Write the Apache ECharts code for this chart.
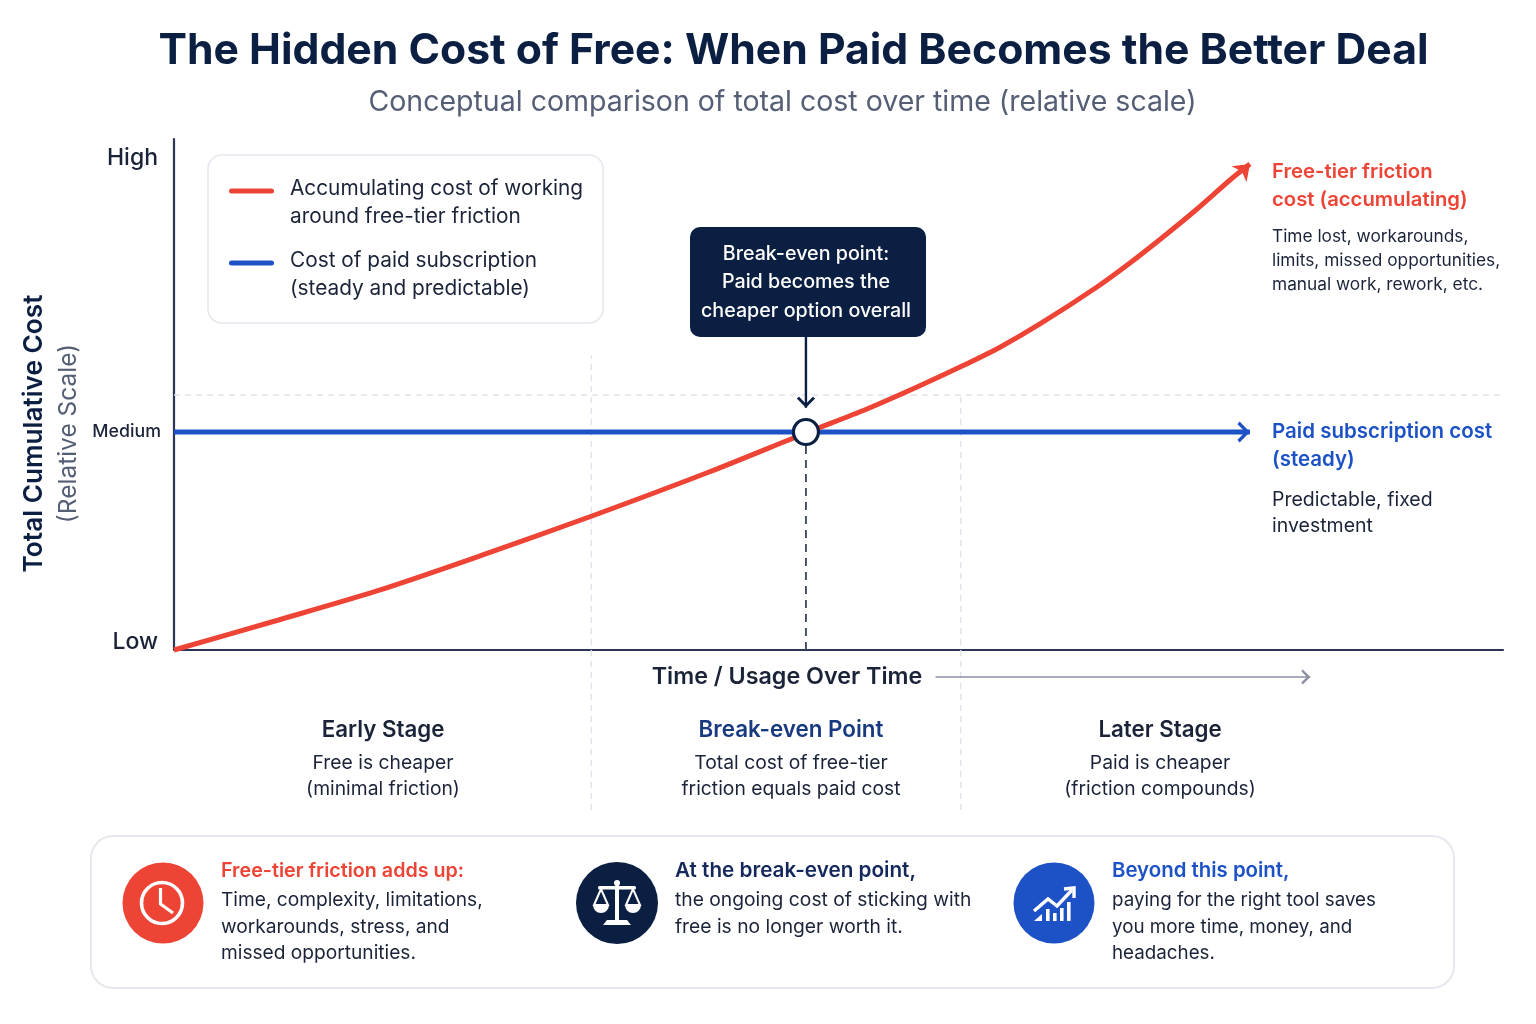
<!DOCTYPE html>
<html>
<head>
<meta charset="utf-8">
<style>html,body{margin:0;padding:0;background:#fff}#c{width:1536px;height:1024px}</style>
<script src="https://cdn.jsdelivr.net/npm/echarts@6/dist/echarts.min.js"></script>
</head>
<body>
<div id="c"></div>
<script>
const titleText = 'The Hidden Cost of Free: When Paid Becomes the Better Deal';
const subtitleText = 'Conceptual comparison of total cost over time (relative scale)';
const yTickValues = [1.6, 42.66, 96.3];
const yTickLabels = ['Low', 'Medium', 'High'];
const freeName = 'Accumulating cost of working\naround free-tier friction';
const paidName = 'Cost of paid subscription\n(steady and predictable)';
const freeX = [0, 7.6, 15.27, 23.02, 31.45, 40.26, 47.55, 52.14, 55.91, 59.14, 62.15, 65.16, 69.45, 71.93, 74.42, 76.98, 79.46, 80.96];
const freeY = [0, 5.68, 11.55, 18.4, 26.22, 34.83, 42.47, 47.16, 51.46, 55.36, 59.26, 63.8, 71.04, 75.73, 80.82, 86.3, 91.98, 95.1];
const paidX = [0, 80.96];
const paidY = [42.66, 42.66];
const breakEven = [47.55, 42.66];
const stageDividers = [[31.4, 57.7], [59.2, 49.9]];
const dividerBottom = -31.3;
const guideLevel = 49.9;
const timeArrowX = [57.3, 85.5];
const timeArrowY = -5.28;
const calloutArrowY = [61.25, 47.4];
const calloutLines = ['Break-even point:', 'Paid becomes the', 'cheaper option overall'];
const freeNote = ['Free-tier friction', 'cost (accumulating)'];
const freeBody = ['Time lost, workarounds,', 'limits, missed opportunities,', 'manual work, rework, etc.'];
const paidNote = ['Paid subscription cost', '(steady)'];
const paidBody = ['Predictable, fixed', 'investment'];
const stageTitles = ['Early Stage', 'Break-even Point', 'Later Stage'];
const stageBodies = [['Free is cheaper', '(minimal friction)'], ['Total cost of free-tier', 'friction equals paid cost'], ['Paid is cheaper', '(friction compounds)']];
const cardTitles = ['Free-tier friction adds up:', 'At the break-even point,', 'Beyond this point,'];
const cardBodies = [
  ['Time, complexity, limitations,', 'workarounds, stress, and', 'missed opportunities.'],
  ['the ongoing cost of sticking with', 'free is no longer worth it.'],
  ['paying for the right tool saves', 'you more time, money, and', 'headaches.']
];

const RED = '#ee4435', BLUE = '#1d52c7', NAVY = '#0b1f42', INK = '#1a2338', FONT = 'Inter';
const CHEVRON = 'path://M0 0L0 0Z M24 24L24 24Z M12 12L22 22L19.5 24L12 16.5L4.5 24L2 22Z';
const SOLID_HEAD = 'path://M12 -3L12 -3Z M12 12L23 27L12 23L1 27Z';
const zip = (xs, ys) => xs.map((x, i) => [x, ys[i]]);
const withArrow = (pts, symbol, size, rot, color) => pts.map((p, i) => i === pts.length - 1
  ? {value: p, symbol, symbolSize: size, symbolRotate: rot, itemStyle: {color}}
  : {value: p, symbol: 'none'});
const guide = (data, color, width, dash, extra) => Object.assign({
  type: 'line', data, clip: false, silent: true, symbol: 'none', showSymbol: false,
  lineStyle: {color, width, type: dash ? dash : 'solid'}, z: 1
}, extra || {});

const txt = (text, x, y, size, weight, color, align) => ({
  type: 'text', x, y: y + 1, silent: true,
  style: {text, fontFamily: FONT, fontSize: size, fontWeight: weight, fill: color, align: align || 'left', verticalAlign: 'middle'}
});
const lines = (arr, x, ys, size, weight, color, align) => arr.map((t, i) => txt(t, x, ys[i], size, weight, color, align));

const W = {stroke: '#fff', fill: 'none'};
const clockIcon = [
  {type: 'circle', shape: {cx: 163, cy: 903, r: 40.5}, style: {fill: RED}},
  {type: 'circle', shape: {cx: 162, cy: 903, r: 20.5}, style: Object.assign({lineWidth: 3.6}, W)},
  {type: 'polyline', shape: {points: [[160.5, 888], [160.5, 904], [173, 913]]}, style: Object.assign({lineWidth: 3.2}, W)}
];
const scaleIcon = [
  {type: 'circle', shape: {cx: 617, cy: 903, r: 41}, style: {fill: NAVY}},
  {type: 'rect', shape: {x: 615, y: 884, width: 4, height: 37}, style: {fill: '#fff'}},
  {type: 'circle', shape: {cx: 617, cy: 883, r: 3}, style: {fill: '#fff'}},
  {type: 'rect', shape: {x: 598, y: 886, width: 38, height: 3.5, r: 1.5}, style: {fill: '#fff'}},
  {type: 'polygon', shape: {points: [[607, 920], [627, 920], [631, 925], [607, 925], [603, 925]]}, style: {fill: '#fff'}},
  {type: 'polyline', shape: {points: [[601, 889], [594, 905], [608, 905], [601, 889]]}, style: {fill: 'none', stroke: '#fff', lineWidth: 2}},
  {type: 'polyline', shape: {points: [[633, 889], [626, 905], [640, 905], [633, 889]]}, style: {fill: 'none', stroke: '#fff', lineWidth: 2}},
  {type: 'sector', shape: {cx: 601, cy: 905, r0: 0, r: 8, startAngle: 0, endAngle: Math.PI, clockwise: true}, style: {fill: '#fff'}},
  {type: 'sector', shape: {cx: 633, cy: 905, r0: 0, r: 8, startAngle: 0, endAngle: Math.PI, clockwise: true}, style: {fill: '#fff'}}
];
const growthIcon = [
  {type: 'circle', shape: {cx: 1054, cy: 903, r: 40.5}, style: {fill: BLUE}},
  {type: 'polygon', shape: {points: [[1034, 921], [1042, 914], [1042, 921]]}, style: {fill: '#fff'}},
  {type: 'rect', shape: {x: 1046, y: 909, width: 3.6, height: 12}, style: {fill: '#fff'}},
  {type: 'rect', shape: {x: 1053, y: 913, width: 3.6, height: 8}, style: {fill: '#fff'}},
  {type: 'rect', shape: {x: 1060, y: 908, width: 3.6, height: 13}, style: {fill: '#fff'}},
  {type: 'rect', shape: {x: 1067, y: 902, width: 3.6, height: 19}, style: {fill: '#fff'}},
  {type: 'polyline', shape: {points: [[1034, 911], [1048, 899], [1057, 906], [1072, 890]]}, style: Object.assign({lineWidth: 3.4}, W)},
  {type: 'polyline', shape: {points: [[1064, 889], [1074, 888], [1074, 898]]}, style: Object.assign({lineWidth: 3.4}, W)}
];

const graphics = [].concat(
  [{type: 'rect', shape: {x: 690, y: 227, width: 236, height: 110, r: 10}, style: {fill: NAVY}, z: 3}],
  lines(calloutLines, 806, [253, 281, 310], 19.7, 500, '#fff', 'center').map(e => Object.assign(e, {z: 4})),
  lines(freeNote, 1272, [171, 199], 20.3, 600, RED),
  lines(freeBody, 1272, [236, 260, 284], 17.3, 400, INK),
  lines(paidNote, 1272, [431, 459], 20.5, 600, BLUE),
  lines(paidBody, 1272, [499, 525], 19.5, 400, INK),
  [txt(stageTitles[0], 383, 729, 22.3, 600, INK, 'center'),
   txt(stageTitles[1], 791, 729, 22.4, 600, '#183a80', 'center'),
   txt(stageTitles[2], 1160, 729, 22.3, 600, INK, 'center')],
  lines(stageBodies[0], 383, [762, 788], 19.3, 400, INK, 'center'),
  lines(stageBodies[1], 791, [762, 788], 19.3, 400, INK, 'center'),
  lines(stageBodies[2], 1160, [762, 788], 19.3, 400, INK, 'center'),
  [{type: 'rect', shape: {x: 91, y: 836, width: 1363, height: 152, r: 22}, style: {fill: '#fff', stroke: '#e6e8ef', lineWidth: 2}, z: -1}],
  clockIcon, scaleIcon, growthIcon,
  [txt(cardTitles[0], 221, 870, 19.7, 600, RED)],
  lines(cardBodies[0], 221, [899, 926, 952], 19.15, 400, INK),
  [txt(cardTitles[1], 675, 870, 20.7, 600, '#14285c')],
  lines(cardBodies[1], 675, [899, 926], 19.25, 400, INK),
  [txt(cardTitles[2], 1112, 870, 20.4, 600, BLUE)],
  lines(cardBodies[2], 1112, [899, 926, 952], 18.8, 400, INK)
);

const LEGEND_ICON = 'path://M0 0L0 0Z M56 56L56 56Z M2.5 13.5H42.5A2.5 2.5 0 0 1 42.5 18.5H2.5A2.5 2.5 0 0 1 2.5 13.5Z';
const chart = echarts.init(document.getElementById('c'), null, {renderer: 'canvas'});
chart.setOption({
  animation: false,
  backgroundColor: '#fff',
  textStyle: {fontFamily: FONT},
  title: [
    {text: titleText, left: 788.5, top: 25, textAlign: 'center',
     textStyle: {fontFamily: FONT, fontSize: 42.7, fontWeight: 700, color: NAVY}},
    {text: subtitleText, left: 777.5, top: 83, textAlign: 'center',
     textStyle: {fontFamily: FONT, fontSize: 28.5, fontWeight: 400, color: '#545e75'}}
  ],
  grid: {left: 174, right: 33, top: 139, bottom: 374, outerBoundsMode: 'none'},
  legend: {
    left: 208, top: 155, orient: 'vertical', data: [
      {name: freeName, icon: LEGEND_ICON},
      {name: paidName, icon: LEGEND_ICON}
    ],
    itemWidth: 56, itemHeight: 56, itemGap: 16, padding: [20, 20, 20, 21], selectedMode: false,
    backgroundColor: '#fff', borderColor: '#e6e8ef', borderWidth: 1.5, borderRadius: 14,
    textStyle: {fontFamily: FONT, fontSize: 20.8, lineHeight: 28, color: INK}
  },
  xAxis: {
    type: 'value', min: 0, max: 100,
    name: 'Time / Usage Over Time', nameLocation: 'middle', nameGap: 27,
    nameTextStyle: {fontFamily: FONT, fontSize: 23.3, fontWeight: 600, color: INK, padding: [0, 103, 0, 0], verticalAlign: 'middle'},
    axisLine: {show: true, lineStyle: {color: '#2a3654', width: 2.2}},
    axisTick: {show: false}, axisLabel: {show: false}, splitLine: {show: false}
  },
  yAxis: {
    type: 'value', min: 0, max: 100,
    name: '{a|Total Cumulative Cost}\n{b|(Relative Scale)}', nameLocation: 'middle', nameRotate: 90, nameGap: 87,
    nameTextStyle: {
      padding: [0, 78, 0, 0],
      rich: {
        a: {fontFamily: FONT, fontSize: 26.2, fontWeight: 600, color: NAVY, lineHeight: 35, align: 'center'},
        b: {fontFamily: FONT, fontSize: 24.5, fontWeight: 400, color: '#545e75', lineHeight: 35, align: 'center'}
      }
    },
    axisLine: {show: true, onZero: false, lineStyle: {color: '#2a3654', width: 2.2}},
    axisTick: {show: false}, splitLine: {show: false},
    axisLabel: {
      customValues: yTickValues, margin: 13, fontFamily: FONT,
      formatter: v => {
        const name = yTickLabels[yTickValues.indexOf(v)];
        return name === 'Medium' ? '{m|' + name + '}' : '{n|' + name + '}';
      },
      rich: {
        n: {fontFamily: FONT, fontSize: 23, fontWeight: 500, color: INK, padding: [0, 3, 0, 0]},
        m: {fontFamily: FONT, fontSize: 17.8, fontWeight: 500, color: INK}
      }
    }
  },
  graphic: {elements: graphics},
  series: [
    guide([[0, guideLevel], [100, guideLevel]], '#e0e3eb', 1.4, [6, 5]),
    guide([[stageDividers[0][0], dividerBottom], [stageDividers[0][0], stageDividers[0][1]]], '#e0e3eb', 1.4, [6, 5]),
    guide([[stageDividers[1][0], dividerBottom], [stageDividers[1][0], stageDividers[1][1]]], '#e0e3eb', 1.4, [6, 5]),
    guide([[breakEven[0], 0], breakEven], '#3a4560', 1.8, [8, 6]),
    guide(withArrow(zip(timeArrowX, [timeArrowY, timeArrowY]), CHEVRON, 18, -90, '#8a90a0'), '#8a90a0', 1.6, null, {z: 2, showSymbol: true}),
    guide(withArrow([[breakEven[0], calloutArrowY[0]], [breakEven[0], calloutArrowY[1]]], CHEVRON, 22, 180, NAVY), NAVY, 2.4, null, {z: 3, showSymbol: true}),
    {
      name: paidName, type: 'line', z: 5, clip: false, symbol: 'none', silent: true,
      data: withArrow(zip(paidX, paidY), CHEVRON, 25, -90, BLUE),
      color: BLUE, lineStyle: {color: BLUE, width: 5}
    },
    {
      name: freeName, type: 'line', z: 6, clip: false, symbol: 'none', silent: true, smooth: 0.3,
      data: withArrow(zip(freeX, freeY), SOLID_HEAD, [22, 30], -47, RED),
      color: RED, lineStyle: {color: RED, width: 5}
    },
    {
      type: 'scatter', z: 8, silent: true, clip: false, data: [breakEven], symbolSize: 25,
      itemStyle: {color: '#fff', borderColor: NAVY, borderWidth: 3.2, opacity: 1}
    }
  ]
});
</script>
</body>
</html>
